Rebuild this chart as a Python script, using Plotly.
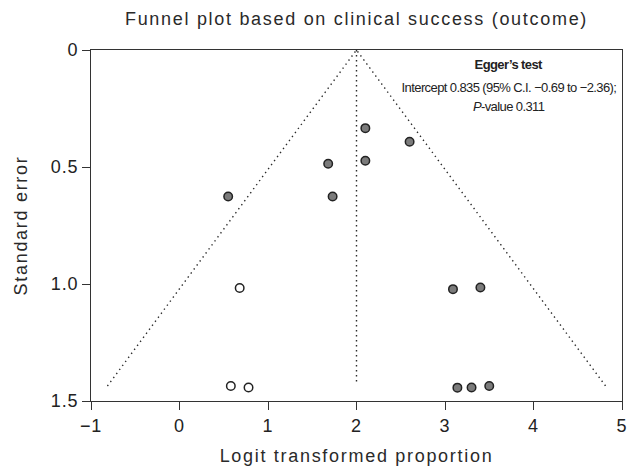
import plotly.graph_objects as go

# ---- data ----
pooled_estimate = 2.0
se_funnel_max = 1.436
se_vline_max = 1.43

filled_x = [2.10, 2.60, 2.10, 1.68, 0.55, 1.73, 3.09, 3.40, 3.14, 3.30, 3.50]
filled_y = [0.334, 0.392, 0.473, 0.486, 0.626, 0.626, 1.022, 1.015, 1.443, 1.442, 1.436]

open_x = [0.68, 0.58, 0.78]
open_y = [1.017, 1.436, 1.442]

x_ticks = [-1, 0, 1, 2, 3, 4, 5]
y_ticks = [0, 0.5, 1.0, 1.5]
y_tick_labels = ["0", "0.5", "1.0", "1.5"]

title_text = "Funnel plot based on clinical success (outcome)"
x_title = "Logit transformed proportion"
y_title = "Standard error"
egger_lines = [
    "<b>Egger\u2019s test</b>",
    "Intercept 0.835 (95% C.I. \u22120.69 to \u22122.36);",
    "<i>P</i>-value 0.311",
]

# ---- derived lines ----
funnel_x = [pooled_estimate - 1.96 * se_funnel_max, pooled_estimate,
            pooled_estimate + 1.96 * se_funnel_max]
funnel_y = [se_funnel_max, 0, se_funnel_max]

MAIN_FONT = "Liberation Sans, Arial, sans-serif"
DARK = "#2b2b2b"

fig = go.Figure()
fig.add_trace(go.Scatter(x=funnel_x, y=funnel_y, mode="lines",
                         line=dict(color=DARK, width=1.4, dash="1.4px,3.6px"),
                         hoverinfo="skip", showlegend=False))
fig.add_trace(go.Scatter(x=[pooled_estimate, pooled_estimate], y=[0, se_vline_max],
                         mode="lines",
                         line=dict(color=DARK, width=1.4, dash="1.4px,3.6px"),
                         hoverinfo="skip", showlegend=False))
fig.add_trace(go.Scatter(x=filled_x, y=filled_y, mode="markers",
                         marker=dict(size=8.5, color="#7b7b7b",
                                     line=dict(color="#222222", width=1.5)),
                         showlegend=False))
fig.add_trace(go.Scatter(x=open_x, y=open_y, mode="markers",
                         marker=dict(size=8.5, color="white",
                                     line=dict(color="#222222", width=1.5)),
                         showlegend=False))

axis_common = dict(showgrid=False, zeroline=False, showline=True, linecolor="#333333",
                   linewidth=1.2, mirror=True, ticks="outside", ticklen=8,
                   tickwidth=1.2, tickcolor="#333333",
                   tickfont=dict(family=MAIN_FONT, size=18, color="#222222"))

fig.update_layout(
    width=633, height=470,
    margin=dict(l=91, r=6, t=50, b=69),
    paper_bgcolor="white", plot_bgcolor="white",
    title=dict(text=title_text, x=0.5, xref="paper", xanchor="center",
               y=(470 - 19) / 470, yref="container", yanchor="middle",
               font=dict(family=MAIN_FONT, size=18, color="#2a2a2a")),
    xaxis=dict(range=[-1, 5], tickmode="array", tickvals=x_ticks,
               title=dict(text=x_title, standoff=14,
                          font=dict(family=MAIN_FONT, size=18, color="#2a2a2a")),
               **axis_common),
    yaxis=dict(range=[1.5, 0], tickmode="array", tickvals=y_ticks,
               ticktext=y_tick_labels,
               title=dict(text=y_title, standoff=20,
                          font=dict(family=MAIN_FONT, size=18, color="#2a2a2a")),
               **axis_common),
)

egger_y_px = [64, 87, 106]
for txt, py in zip(egger_lines, egger_y_px):
    fig.add_annotation(x=3.72, xref="x", y=(401 - py) / 351, yref="paper",
                       text=txt, showarrow=False, xanchor="center", yanchor="middle",
                       font=dict(family=MAIN_FONT, size=13, color="#222222"))

# letter spacing to mimic the tracked typography of the original figure
post_js = """
var gd = document.getElementById('{plot_id}');
function applySpacing(){
  gd.querySelectorAll('.gtitle, .xtitle, .ytitle').forEach(function(e){ e.style.letterSpacing = '1.7px'; });
  gd.querySelectorAll('.xtick text, .ytick text').forEach(function(e){ e.style.letterSpacing = '0.8px'; });
  gd.querySelectorAll('.annotation-text').forEach(function(e){ e.style.letterSpacing = '-0.6px'; });
}
applySpacing();
gd.on('plotly_afterplot', applySpacing);
"""

fig.write_html("out.html", post_script=post_js)
